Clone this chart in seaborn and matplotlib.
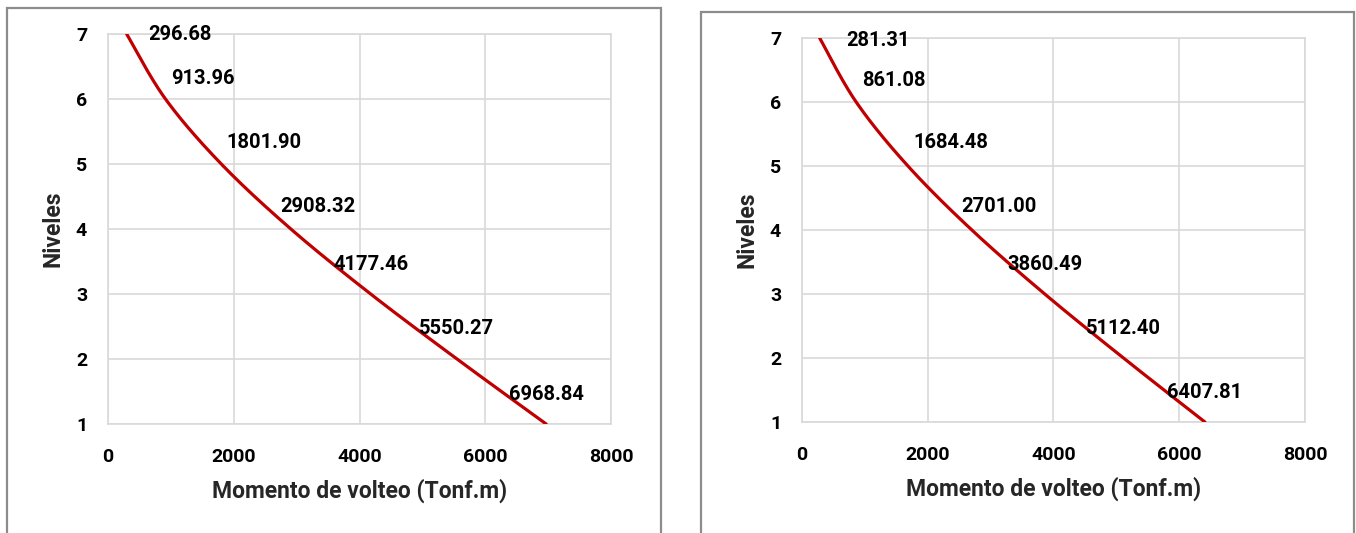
import numpy as np
import pandas as pd
import seaborn as sns
import matplotlib.pyplot as plt
from matplotlib.patches import Rectangle

# Overturning moment per storey, two analysis directions
niveles = [7, 6, 5, 4, 3, 2, 1]
momento_izq = [296.68, 913.96, 1801.90, 2908.32, 4177.46, 5550.27, 6968.84]
momento_der = [281.31, 861.08, 1684.48, 2701.00, 3860.49, 5112.40, 6407.81]
x_ticks = [0, 2000, 4000, 6000, 8000]
y_ticks = [1, 2, 3, 4, 5, 6, 7]
x_label = "Momento de volteo (Tonf.m)"
y_label = "Niveles"

sns.set_theme(style="white")
plt.rcParams["font.family"] = ["Roboto", "DejaVu Sans"]
plt.rcParams["font.weight"] = "bold"

LINE = "#C00000"
GRID = "#D9D9D9"
FRAME = "#8C8C8C"
FS_TICK = 14
FS_VAL = 14.5
FS_LAB = 16.5


def smooth(xs, ys, n=40):
    """Cubic Bezier smoothing through every point (spreadsheet-style smoothed line)."""
    P = np.column_stack([xs, ys]).astype(float)
    out = [P[0]]
    t = np.linspace(0, 1, n)[1:, None]
    for i in range(len(P) - 1):
        p0 = P[i - 1] if i > 0 else P[i]
        p1, p2 = P[i], P[i + 1]
        p3 = P[i + 2] if i + 2 < len(P) else P[i + 1]
        c1 = p1 + (p2 - p0) / 6
        c2 = p2 - (p3 - p1) / 6
        seg = (1 - t) ** 3 * p1 + 3 * (1 - t) ** 2 * t * c1 + 3 * (1 - t) * t ** 2 * c2 + t ** 3 * p2
        out.extend(seg)
    return np.array(out)


# label offsets in pixels (dx, dy) from each point
offs_izq = [(53, 0), (37, 20), (43, 22), (27, 23), (0, 30), (0, 30), (0, 30)]
offs_der = [(58, -3), (38, 21), (43, 23), (27, 23), (0, 30), (0, 30), (0, 30)]

W, H = 1356, 533
fig = plt.figure(figsize=(W / 100, H / 100), dpi=100)

# panel frames
for (x0, y0, x1) in [(7, 8, 661), (701, 12, 1354)]:
    fig.patches.append(Rectangle((x0 / W, -0.05), (x1 - x0) / W, 1.05 - y0 / H,
                                 transform=fig.transFigure, fill=False,
                                 edgecolor=FRAME, linewidth=1.6, zorder=0))


def panel(left, top, right, bottom, values, offs):
    hpx = bottom - top
    ax = fig.add_axes([left / W, 1 - bottom / H, (right - left) / W, hpx / H])
    curve = smooth(values, niveles)
    df = pd.DataFrame({"momento": curve[:, 0], "nivel": curve[:, 1]})
    sns.lineplot(data=df, x="momento", y="nivel", sort=False, estimator=None,
                 color=LINE, linewidth=2.3, ax=ax, zorder=3)
    ax.set_xlim(0, 8000)
    ax.set_ylim(1, 7)
    ax.set_xticks(x_ticks)
    ax.set_yticks(y_ticks)
    ax.grid(True, color=GRID, linewidth=1.2)
    for s in ax.spines.values():
        s.set_color(GRID)
        s.set_linewidth(1.2)
    ax.tick_params(axis="both", length=0, labelsize=FS_TICK, colors="black")
    ax.tick_params(axis="y", pad=15)
    ax.tick_params(axis="x", pad=17)
    for lbl in ax.get_xticklabels() + ax.get_yticklabels():
        lbl.set_fontweight("bold")
    ax.set_xlabel(x_label, fontsize=FS_LAB, fontweight="bold")
    ax.set_ylabel(y_label, fontsize=FS_LAB, fontweight="bold")
    ax.xaxis.label.set_va("center")
    ax.yaxis.label.set_va("center")
    ax.xaxis.set_label_coords(0.5, -67 / hpx)
    ax.yaxis.set_label_coords(-55 / (right - left), 0.5)
    for v, lv, (dx, dy) in zip(values, niveles, offs):
        ax.annotate(f"{v:.2f}", xy=(v, lv), xytext=(dx, dy), textcoords="offset pixels",
                    ha="center", va="center", fontsize=FS_VAL, fontweight="bold",
                    color="black", zorder=4, annotation_clip=False)
    return ax


panel(108, 34, 611, 424, momento_izq, offs_izq)
panel(802, 38, 1305, 422, momento_der, offs_der)

fig.savefig("out.png", dpi=100)
